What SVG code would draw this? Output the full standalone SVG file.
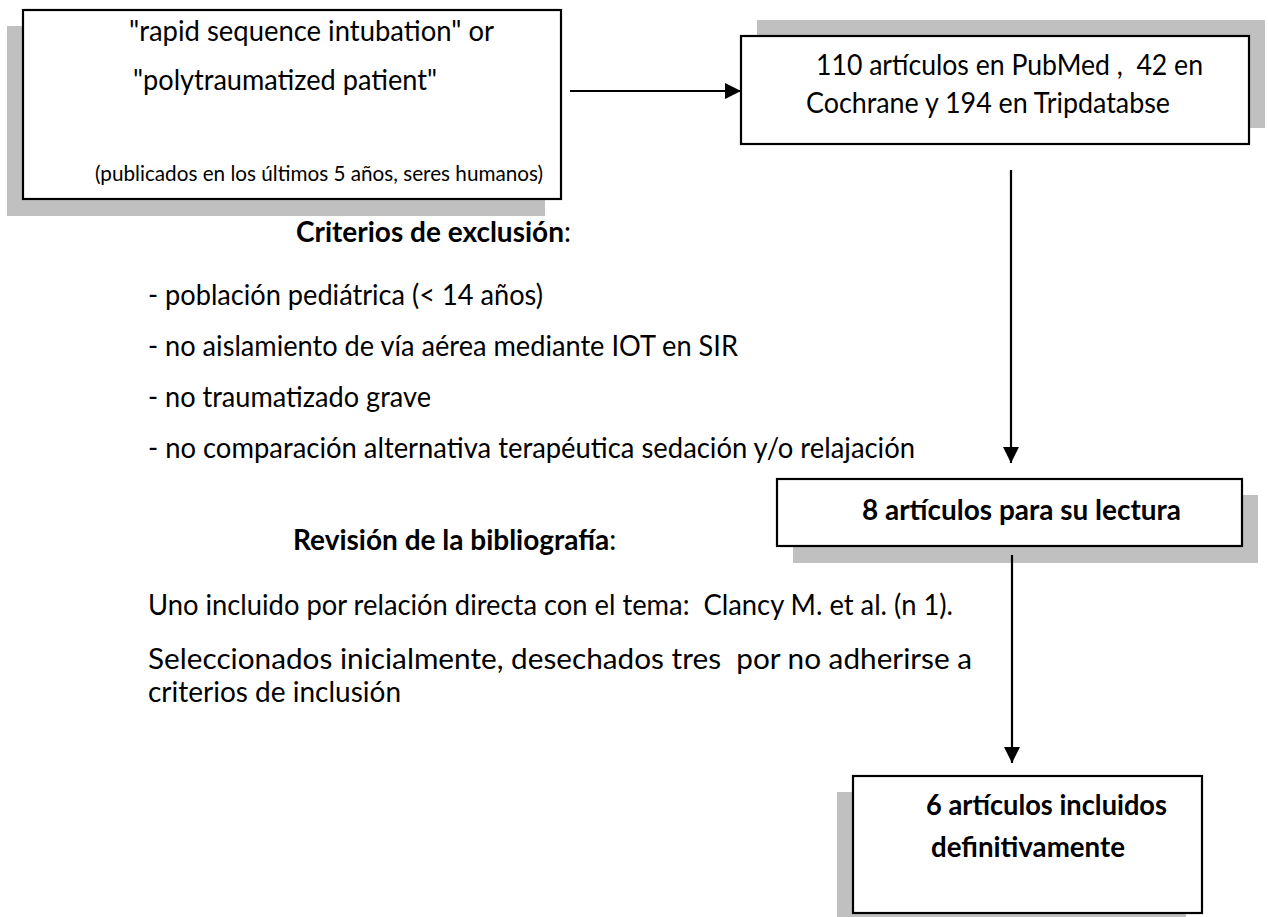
<svg xmlns="http://www.w3.org/2000/svg" width="1268" height="917" viewBox="0 0 1268 917">
<defs>
<style>
.shadow{fill:#c0c0c0;stroke:none}
.box{fill:#fff;stroke:#000;stroke-width:2.2}
.t{font-family:Lato,"Liberation Sans",sans-serif;font-size:28px;fill:#000}
.s{font-family:Lato,"Liberation Sans",sans-serif;font-size:21px;fill:#000}
.b{font-weight:bold}
.conn{stroke:#000;stroke-width:2.2;fill:none}
</style>
<marker id="arr" markerUnits="userSpaceOnUse" markerWidth="16" markerHeight="16" viewBox="0 0 16 16" refX="16" refY="8" orient="auto">
<path d="M0,0 L16,8 L0,16 Z" fill="#000"/>
</marker>
</defs>
<rect width="1268" height="917" fill="#fff"/>
<g id="node-search">
<rect class="shadow" x="7" y="26" width="538" height="190"/>
<rect class="box" x="23" y="10" width="538" height="189"/>
<text class="t" x="129" y="41" textLength="365" lengthAdjust="spacingAndGlyphs">"rapid sequence intubation" or</text>
<text class="t" x="133" y="90" textLength="304" lengthAdjust="spacingAndGlyphs">"polytraumatized patient"</text>
<text class="s" x="95" y="181" textLength="448" lengthAdjust="spacingAndGlyphs">(publicados en los últimos 5 años, seres humanos)</text>
</g>
<g id="node-results">
<rect class="shadow" x="757" y="20" width="508" height="108"/>
<rect class="box" x="741" y="36" width="508" height="108"/>
<text class="t" x="816" y="75" textLength="387" lengthAdjust="spacingAndGlyphs" xml:space="preserve">110 artículos en PubMed ,  42 en</text>
<text class="t" x="806" y="113" textLength="364" lengthAdjust="spacingAndGlyphs">Cochrane y 194 en Tripdatabse</text>
</g>
<g id="node-exclusion">
<text class="t" x="296" y="242"><tspan class="b">Criterios de exclusión</tspan>:</text>
<text class="t" x="148" y="305" textLength="395" lengthAdjust="spacingAndGlyphs">- población pediátrica (&lt; 14 años)</text>
<text class="t" x="148" y="356" textLength="590" lengthAdjust="spacingAndGlyphs">- no aislamiento de vía aérea mediante IOT en SIR</text>
<text class="t" x="148" y="407" textLength="283" lengthAdjust="spacingAndGlyphs">- no traumatizado grave</text>
<text class="t" x="148" y="458" textLength="767" lengthAdjust="spacingAndGlyphs">- no comparación alternativa terapéutica sedación y/o relajación</text>
</g>
<g id="node-reading">
<rect class="shadow" x="793" y="495" width="465" height="68"/>
<rect class="box" x="777" y="479" width="465" height="67"/>
<text class="t b" x="862" y="520" textLength="319" lengthAdjust="spacingAndGlyphs">8 artículos para su lectura</text>
</g>
<g id="node-review">
<text class="t" x="293" y="550"><tspan class="b">Revisión de la bibliografía</tspan>:</text>
<text class="t" x="148" y="615" textLength="805" lengthAdjust="spacingAndGlyphs" xml:space="preserve">Uno incluido por relación directa con el tema:  Clancy M. et al. (n 1).</text>
<text class="t" x="148" y="669" textLength="824" lengthAdjust="spacingAndGlyphs" xml:space="preserve">Seleccionados inicialmente, desechados tres  por no adherirse a</text>
<text class="t" x="148" y="702">criterios de inclusión</text>
</g>
<g id="node-final">
<rect class="shadow" x="837" y="792" width="349" height="137"/>
<rect class="box" x="853" y="776" width="349" height="137"/>
<text class="t b" x="926" y="815" textLength="241" lengthAdjust="spacingAndGlyphs">6 artículos incluidos</text>
<text class="t b" x="931" y="857" textLength="194" lengthAdjust="spacingAndGlyphs">definitivamente</text>
</g>
<g id="connectors">
<line class="conn" x1="570" y1="91" x2="741" y2="91" marker-end="url(#arr)"/>
<line class="conn" x1="1011" y1="170" x2="1011" y2="463" marker-end="url(#arr)"/>
<line class="conn" x1="1012" y1="555" x2="1012" y2="763" marker-end="url(#arr)"/>
</g>
</svg>
